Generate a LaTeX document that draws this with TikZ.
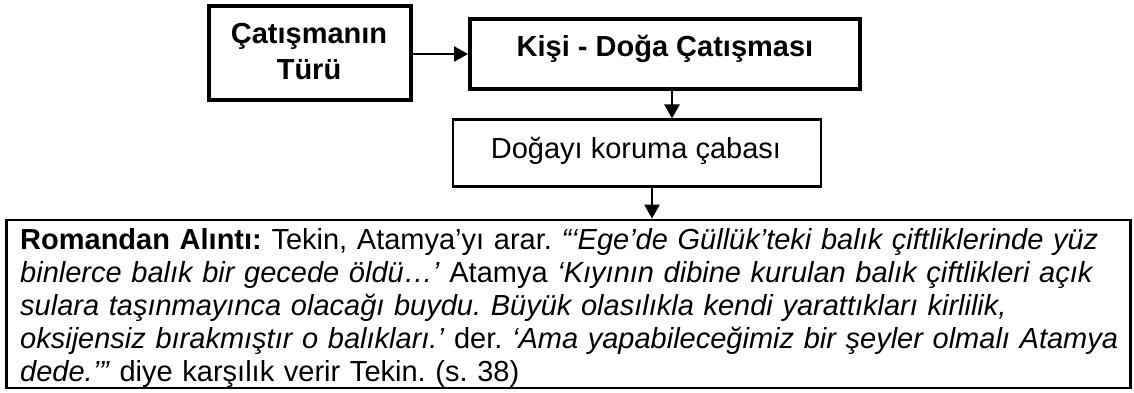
\documentclass[tikz,border=0pt]{standalone}
\usepackage{fontspec}
\setmainfont{Liberation Sans}
\usetikzlibrary{arrows.meta}
\begin{document}
\begin{tikzpicture}[x=1pt,y=-1pt,
  boxthick/.style={draw, line width=4pt, inner sep=0pt},
  boxthin/.style={draw, line width=2.2pt, inner sep=0pt},
  boxquote/.style={draw, line width=2.8pt, inner sep=0pt},
  arr/.style={line width=2.5pt, -{Triangle[length=14pt,width=15pt]}},
  hdr/.style={font=\fontsize{29}{36}\selectfont\bfseries, inner sep=0pt, align=center},
  plain/.style={font=\fontsize{29}{34}\selectfont, inner sep=0pt},
  body/.style={font=\fontsize{29}{33}\selectfont\frenchspacing, inner sep=0pt, text width=1095pt}]
\useasboundingbox (0,0) rectangle (1134,392);
\node[boxthick, minimum width=202pt, minimum height=94pt] (b1) at (310,53) {};
\node[boxthick, minimum width=390pt, minimum height=70pt] (b2) at (665,54) {};
\node[boxthin, minimum width=368pt, minimum height=67pt] (b3) at (637,153) {};
\node[boxquote, minimum width=1124pt, minimum height=168pt] (b4) at (568.5,304) {};
\node[hdr, anchor=base] (t1) at (309,79) {Çatışmanın\\Türü};
\node[hdr, anchor=base] (t2) at (665,56) {Kişi - Doğa Çatışması};
\node[plain, anchor=base] (t3) at (636,158) {Doğayı koruma çabası};
\node[body, anchor=base west] (t4) at (20,249) {%
\hbox to 1095pt{\textbf{Romandan Alıntı:} Tekin, Atamya’yı arar. \textit{“‘Ege’de Güllük’teki balık çiftliklerinde yüz}}
\hbox to 1095pt{\textit{binlerce balık bir gecede öldü…’} Atamya \textit{‘Kıyının dibine kurulan balık çiftlikleri açık}}
\hbox to 1095pt{\textit{sulara taşınmayınca olacağı buydu. Büyük olasılıkla kendi yarattıkları kirlilik,}}
\hbox to 1095pt{\textit{oksijensiz bırakmıştır o balıkları.’} der. \textit{‘Ama yapabileceğimiz bir şeyler olmalı Atamya}}
\hbox{\textit{dede.’”} diye karşılık verir Tekin. (s. 38)}};
\coordinate (a2) at (672,0);
\coordinate (a3) at (652,0);
\draw[arr] (b1.east |- b2.west) -- (b2.west);
\draw[arr] (b2.south -| a2) -- (b3.north -| a2);
\draw[arr] (b3.south -| a3) -- (b4.north -| a3);
\end{tikzpicture}
\end{document}
